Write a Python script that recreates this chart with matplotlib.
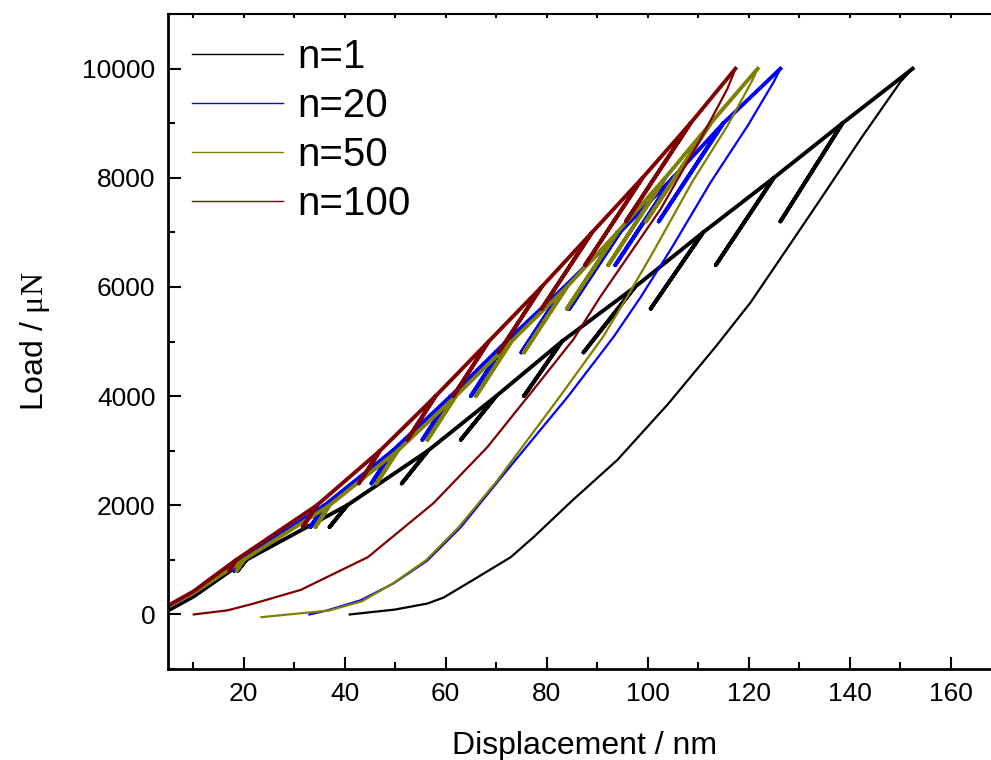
import matplotlib
matplotlib.use("Agg")
import matplotlib.pyplot as plt
from matplotlib.ticker import MultipleLocator

plt.rcParams["font.family"] = ["Liberation Sans", "DejaVu Sans"]
plt.rcParams["mathtext.fontset"] = "custom"
plt.rcParams["mathtext.rm"] = "Liberation Serif"

# peak loads of the partial unloading cycles and the load each loop unloads to
peak_load = [1000, 2000, 3000, 4000, 5000, 6000, 7000, 8000, 9000, 10000]
loop_load = [800, 1600, 2400, 3200, 4000, 4800, 5600, 6400, 7200]

labels = ["n=1", "n=20", "n=50", "n=100"]
colors = ["#000000", "#0000ff", "#808000", "#800000"]

# initial contact segment (displacement nm, load uN)
start_x = {
    "n=1": [4.0, 10.1],
    "n=20": [4.0, 10.0],
    "n=50": [4.0, 10.0],
    "n=100": [4.0, 10.0],
}
start_y = {
    "n=1": [20, 330],
    "n=20": [80, 380],
    "n=50": [90, 390],
    "n=100": [110, 420],
}

# displacement at each peak and at the bottom of each unload loop
peak_x = {
    "n=1": [20.5, 40.5, 56.5, 70, 83, 97.5, 111, 125, 138.6, 152.5],
    "n=20": [19.5, 36, 49.5, 61, 72, 83.5, 94.5, 105, 115, 126.3],
    "n=50": [20, 37, 50.5, 62, 73, 84, 94, 103.5, 112.5, 121.8],
    "n=100": [18.5, 34.5, 47, 58, 68.5, 79, 89, 99, 108.5, 117.4],
}
loop_x = {
    "n=1": [18.8, 37, 51.3, 63, 75.5, 87.3, 100.6, 113.5, 126.3],
    "n=20": [18.1, 33.2, 45.3, 55.4, 65, 75, 84.5, 93.6, 102.2],
    "n=50": [18.6, 34.2, 46.3, 56.4, 66, 75.5, 84, 92.2, 99.7],
    "n=100": [17.1, 31.7, 42.8, 52.4, 61.5, 70.5, 79, 87.6, 95.7],
}

# final full unloading curves
unload_x = {
    "n=1": [152.5, 150.1, 142.2, 135.6, 128.9, 120.4, 113.5, 104, 94, 85,
            77.4, 72.9, 66.3, 59.6, 56.4, 50, 41],
    "n=20": [126.3, 125, 119.8, 112.5, 104.6, 98.6, 93.3, 84.2, 70.9, 63,
             56.4, 49.7, 43.2, 36.6, 33],
    "n=50": [121.8, 120.6, 115.8, 108.8, 101.4, 95.9, 91.2, 82.6, 70.2, 62.6,
             56.2, 49.6, 43.4, 36.8, 30, 23.5],
    "n=100": [117.4, 115.8, 110.5, 102.6, 90.7, 85.3, 77.4, 68.3, 57.6, 44.6,
              31.3, 22, 16.8, 10.1],
}
unload_y = {
    "n=1": [10000, 9760, 8713, 7794, 6875, 5717, 4908, 3850, 2830, 2080,
            1415, 1050, 680, 310, 200, 90, 0],
    "n=20": [10000, 9760, 8950, 7920, 6690, 5810, 5090, 3990, 2500, 1600,
             990, 570, 260, 75, 0],
    "n=50": [10000, 9760, 8950, 7920, 6690, 5810, 5090, 3990, 2450, 1600,
             1000, 570, 240, 70, 10, -50],
    "n=100": [10000, 9630, 8710, 7430, 5830, 5040, 4120, 3070, 2040, 1050,
              450, 200, 75, 0],
}


def cyclic_path(name):
    xs = list(start_x[name])
    ys = list(start_y[name])
    px = peak_x[name]
    for i, load in enumerate(peak_load):
        xs.append(px[i])
        ys.append(load)
        if i < len(loop_load):
            # partial unload and reload back to the same peak
            xs += [loop_x[name][i], px[i]]
            ys += [loop_load[i], load]
    return xs, ys


fig = plt.figure(figsize=(9.91, 7.6), dpi=100)
ax = fig.add_axes([0.1695, 0.1197, 0.8406, 0.8618])

for name, color in zip(labels, colors):
    xs, ys = cyclic_path(name)
    ax.plot(xs, ys, color=color, lw=2.8, solid_joinstyle="round")
    ax.plot(unload_x[name], unload_y[name], color=color, lw=1.6)
    ax.plot([], [], color=color, lw=1.0, label=name)

ax.set_xlim(5, 170)
ax.set_ylim(-1000, 11000)
ax.xaxis.set_major_locator(MultipleLocator(20))
ax.xaxis.set_minor_locator(MultipleLocator(10))
ax.yaxis.set_major_locator(MultipleLocator(2000))
ax.yaxis.set_minor_locator(MultipleLocator(1000))

ax.tick_params(which="both", direction="in", labelsize=19, width=1.5,
               top=True, right=False)
ax.tick_params(which="major", length=9, pad=9)
ax.tick_params(which="minor", length=5)
for t in ax.xaxis.get_major_ticks() + ax.xaxis.get_minor_ticks():
    t.tick2line.set_markersize(3)

ax.spines["left"].set_linewidth(2)
ax.spines["bottom"].set_linewidth(2)
ax.spines["top"].set_linewidth(1.5)

ax.set_xlabel("Displacement / nm", fontsize=23, labelpad=18)
ax.set_ylabel(r"Load / $\mathrm{\mu N}$", fontsize=23, labelpad=22)

ax.legend(loc="upper left", bbox_to_anchor=(0.029, 0.964), frameon=False,
          fontsize=29, handlelength=2.26, handletextpad=0.35, labelspacing=0.28,
          borderpad=0, borderaxespad=0)

fig.savefig("out.png", dpi=100)
